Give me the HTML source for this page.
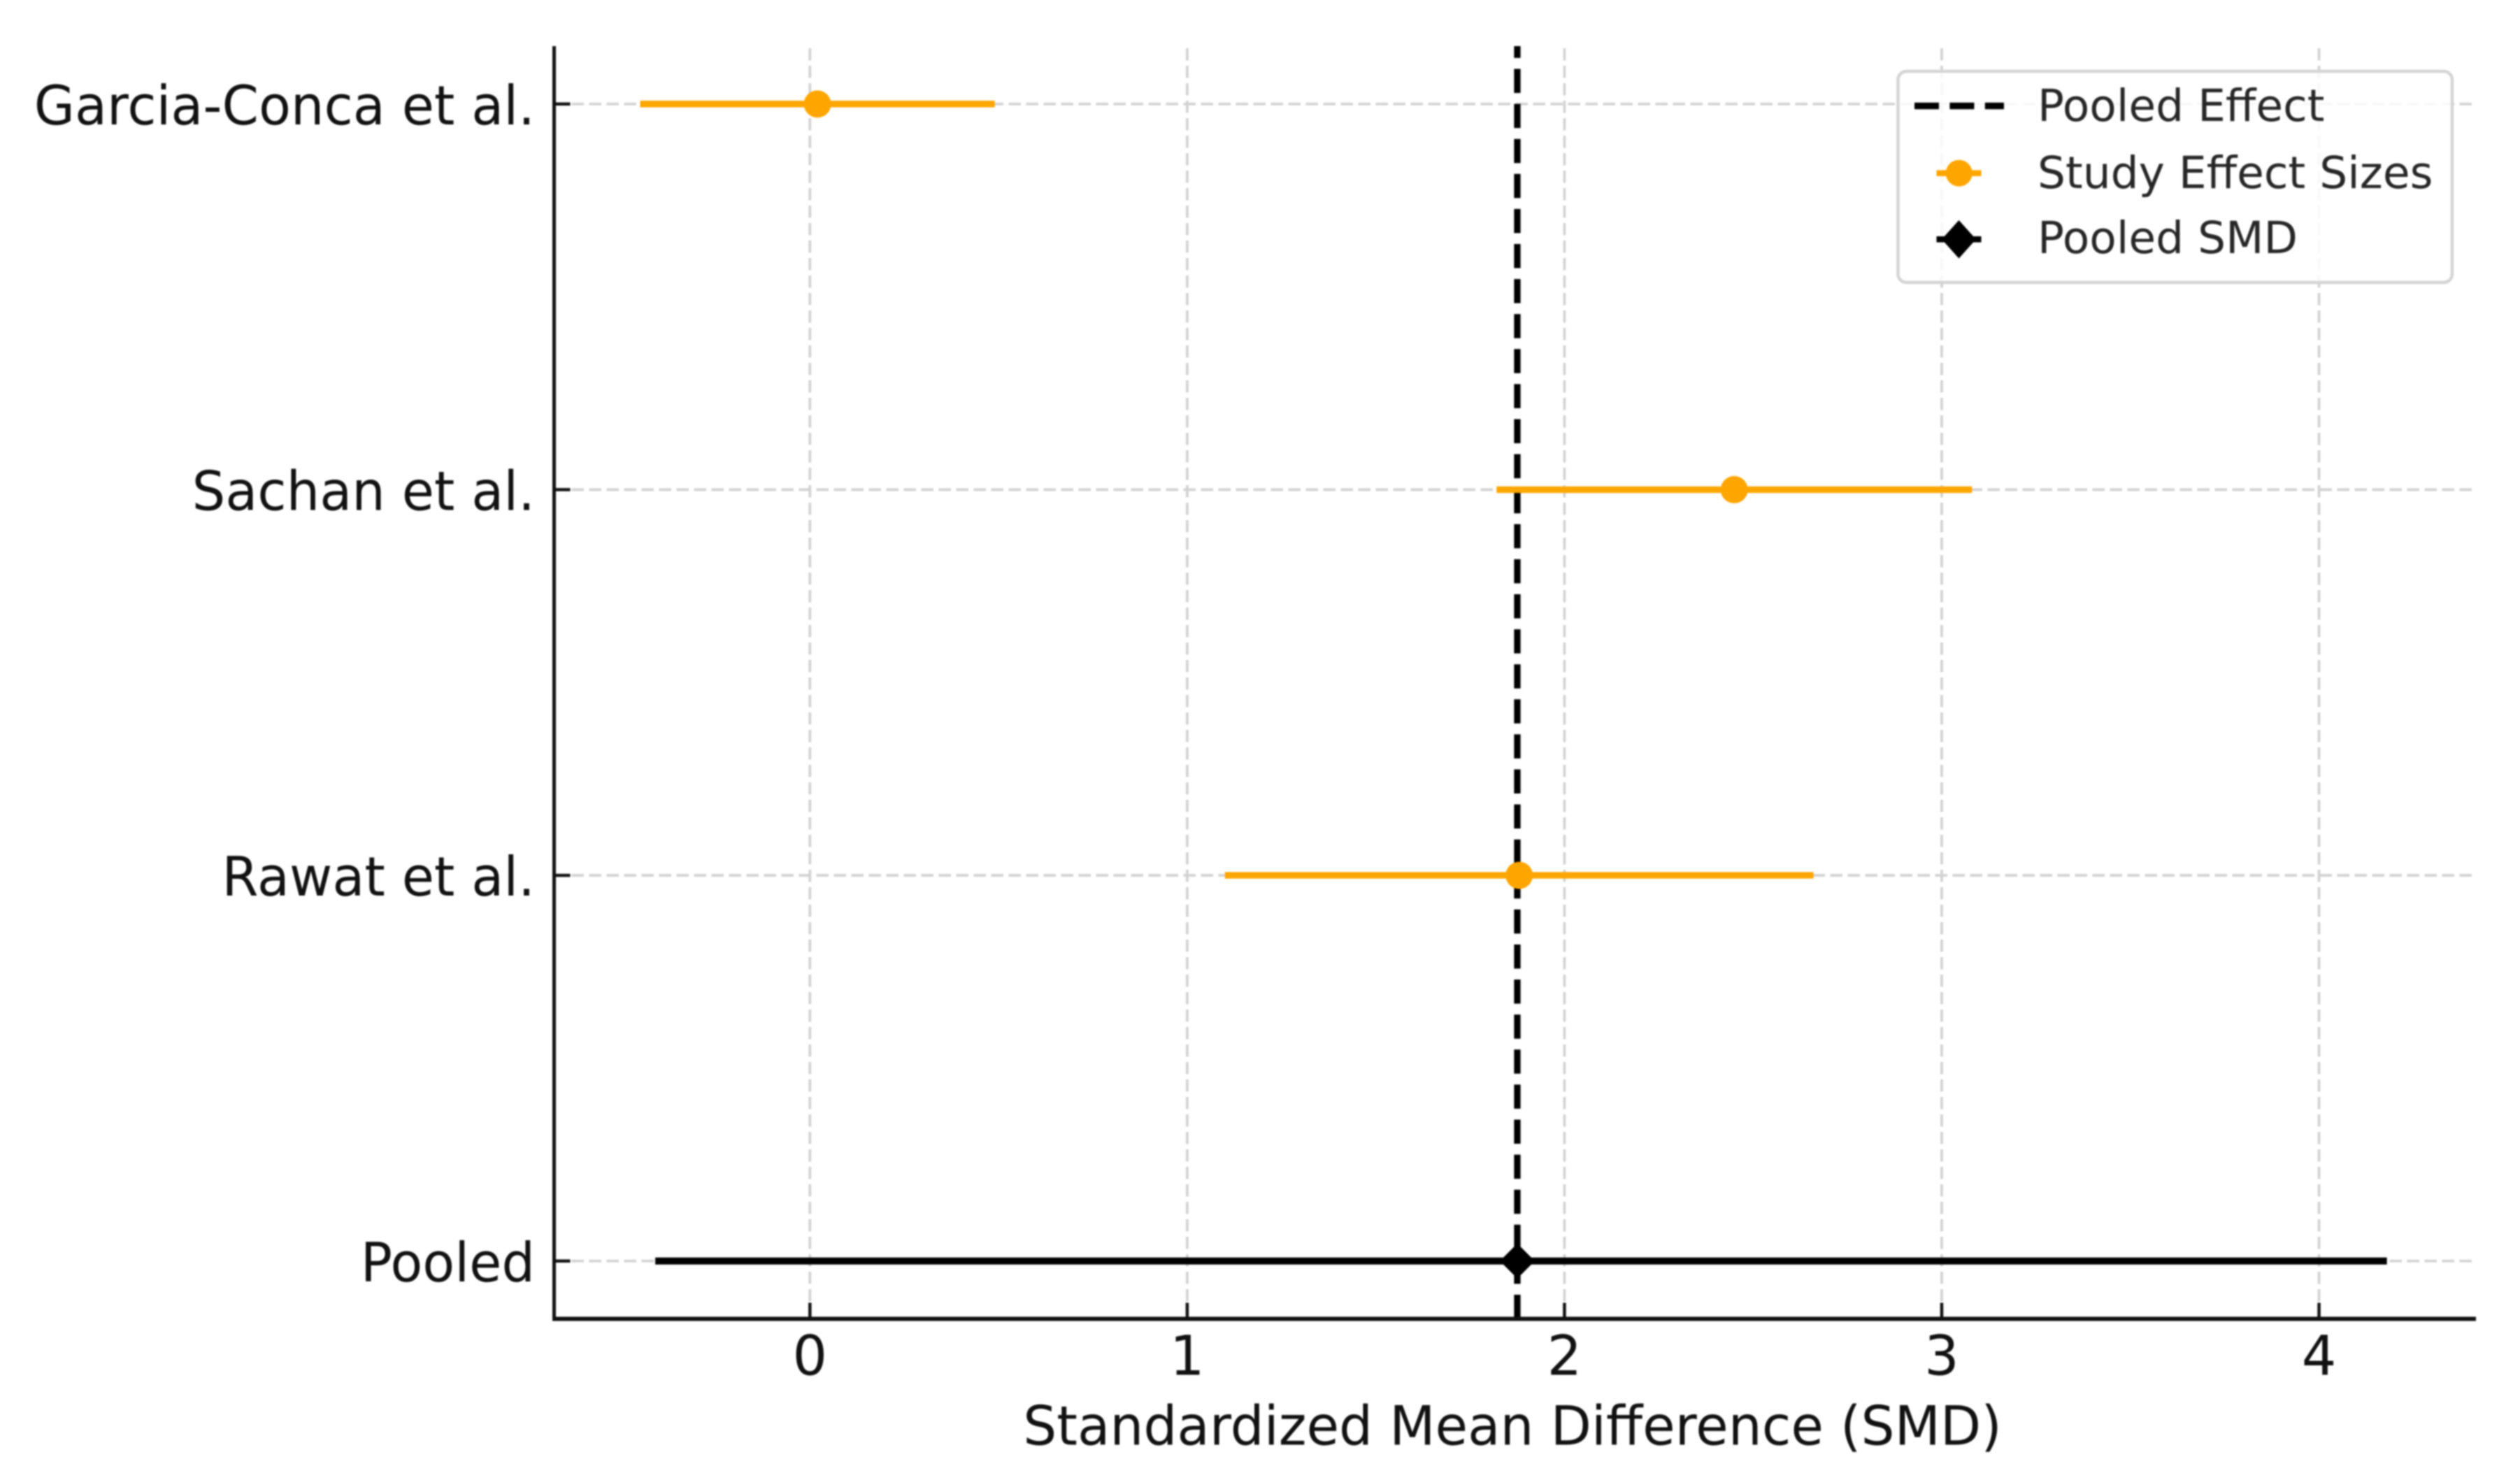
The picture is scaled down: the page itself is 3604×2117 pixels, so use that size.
<!DOCTYPE html>
<html lang="en">
<head>
<meta charset="utf-8">
<title>Forest plot of standardized mean differences</title>
<style>
html,body{margin:0;padding:0;background:#fff;}
body{width:3604px;height:2117px;overflow:hidden;}
svg{display:block;filter:blur(1.1px);}
text{font-family:"DejaVu Sans","Liberation Sans",sans-serif;}
</style>
</head>
<body>
<svg id="chart" xmlns="http://www.w3.org/2000/svg" width="3604" height="2117" viewBox="0 0 3604 2117">
  <rect x="0" y="0" width="3604" height="2117" fill="#ffffff"/>
  <g id="grid"></g>
  <g id="pooled-line-layer"></g>
  <g id="marks"></g>
  <g id="axes"></g>
  <text transform="translate(2163,2066.5) scale(0.971,1)" font-size="78" text-anchor="middle" fill="#111">Standardized Mean Difference (SMD)</text>
  <g>
    <rect x="2714.5" y="102" width="792.5" height="302" rx="12" ry="12" fill="#ffffff" fill-opacity="0.85" stroke="#d4d4d4" stroke-width="4.5"/>
    <g>
      <line x1="2738" y1="151.5" x2="2866" y2="151.5" stroke="#000" stroke-width="9.5" stroke-dasharray="35 15.4"/>
      <text x="2914" y="173" font-size="63" fill="#262626">Pooled Effect</text>
    </g>
    <g>
      <line x1="2769.5" y1="247.7" x2="2833.5" y2="247.7" stroke="#ffa500" stroke-width="8.7"/>
      <circle cx="2801.7" cy="247.7" r="19" fill="#ffa500"/>
      <text x="2914" y="269" font-size="63" fill="#262626">Study Effect Sizes</text>
    </g>
    <g>
      <line x1="2769.5" y1="342.3" x2="2833.5" y2="342.3" stroke="#000" stroke-width="8.7"/>
      <polygon points="2801.5,315 2826,342.3 2801.5,369.6 2777,342.3" fill="#000"/>
      <text x="2914" y="362" font-size="63" fill="#262626">Pooled SMD</text>
    </g>
  </g>
</svg>
<script>
const studies = ["Garcia-Conca et al.", "Sachan et al.", "Rawat et al.", "Pooled"];
const effects = [0.02, 2.45, 1.88, 1.875];
const ciLow = [-0.45, 1.82, 1.10, -0.41];
const ciHigh = [0.49, 3.08, 2.66, 4.18];
const seriesKinds = ["study", "study", "study", "pooled"];
const xTicks = [0, 1, 2, 3, 4];
const pooledEffect = 1.875;
const xDomain = [-0.678, 4.416];
const yDomain = [-0.15, 3.15];

const plotLeft = 792.5, plotRight = 3541, plotTop = 66, plotBottom = 1886.5;
const SVG_NS = "http://www.w3.org/2000/svg";

function xScale(v) {
  return plotLeft + (v - xDomain[0]) / (xDomain[1] - xDomain[0]) * (plotRight - plotLeft);
}
function yScale(i) {
  const pos = studies.length - 1 - i;
  return plotBottom - (pos - yDomain[0]) / (yDomain[1] - yDomain[0]) * (plotBottom - plotTop);
}
function svgEl(tag, attrs, parent) {
  const el = document.createElementNS(SVG_NS, tag);
  for (const k in attrs) el.setAttribute(k, attrs[k]);
  parent.appendChild(el);
  return el;
}

const grid = document.getElementById("grid");
const pooledLayer = document.getElementById("pooled-line-layer");
const marks = document.getElementById("marks");
const axes = document.getElementById("axes");

const gridStyle = { stroke: "#d2d2d2", "stroke-width": 3.8, "stroke-dasharray": "17.5 7.5" };

xTicks.forEach(function (t) {
  const gx = svgEl("line", Object.assign({ x1: xScale(t), x2: xScale(t), y1: plotBottom, y2: plotTop }, gridStyle), grid);
  
  
});
studies.forEach(function (s, i) {
  const gy = svgEl("line", Object.assign({ x1: plotLeft, x2: plotRight, y1: yScale(i), y2: yScale(i) }, gridStyle), grid);
  
  
});

const refLine = svgEl("line", {
  x1: xScale(pooledEffect), x2: xScale(pooledEffect), y1: plotBottom, y2: plotTop,
  stroke: "#000", "stroke-width": 9.3, "stroke-dasharray": "34.5 15.6"
}, pooledLayer);



studies.forEach(function (s, i) {
  const color = seriesKinds[i] === "pooled" ? "#000000" : "#ffa500";
  const y = yScale(i);
  const ci = svgEl("line", {
    x1: xScale(ciLow[i]), x2: xScale(ciHigh[i]), y1: y, y2: y,
    stroke: color, "stroke-width": seriesKinds[i] === "pooled" ? 10 : 9.4
  }, marks);
  
  
  const cx = xScale(effects[i]);
  if (seriesKinds[i] === "pooled") {
    const h = 25;
    const d = svgEl("polygon", {
      points: [cx, y - h, cx + h, y, cx, y + h, cx - h, y].join(" "),
      fill: color
    }, marks);
    
    
  } else {
    const c = svgEl("circle", { cx: cx, cy: y, r: 19.5, fill: color }, marks);
    
    
  }
});

const ySpine = svgEl("line", { x1: plotLeft, x2: plotLeft, y1: plotTop, y2: plotBottom + 3, stroke: "#111", "stroke-width": 5 }, axes);


const xSpine = svgEl("line", { x1: plotLeft - 2.5, x2: plotRight, y1: plotBottom, y2: plotBottom, stroke: "#111", "stroke-width": 6 }, axes);



xTicks.forEach(function (t) {
  const x = xScale(t);
  const tick = svgEl("line", { x1: x, x2: x, y1: plotBottom, y2: plotBottom - 23, stroke: "#111", "stroke-width": 4.5 }, axes);
  
  
  const label = svgEl("text", { x: x, y: 1966.5, "font-size": 78, "text-anchor": "middle", fill: "#111" }, axes);
  
  
  label.textContent = String(t);
});
studies.forEach(function (s, i) {
  const y = yScale(i);
  const tick = svgEl("line", { x1: plotLeft, x2: plotLeft + 23, y1: y, y2: y, stroke: "#111", "stroke-width": 4.5 }, axes);
  
  
  const label = svgEl("text", {
    transform: "translate(765," + (y + 29) + ") scale(0.963,1)",
    "font-size": 78, "text-anchor": "end", fill: "#111"
  }, axes);
  
  
  label.textContent = s;
});
</script>
</body>
</html>
